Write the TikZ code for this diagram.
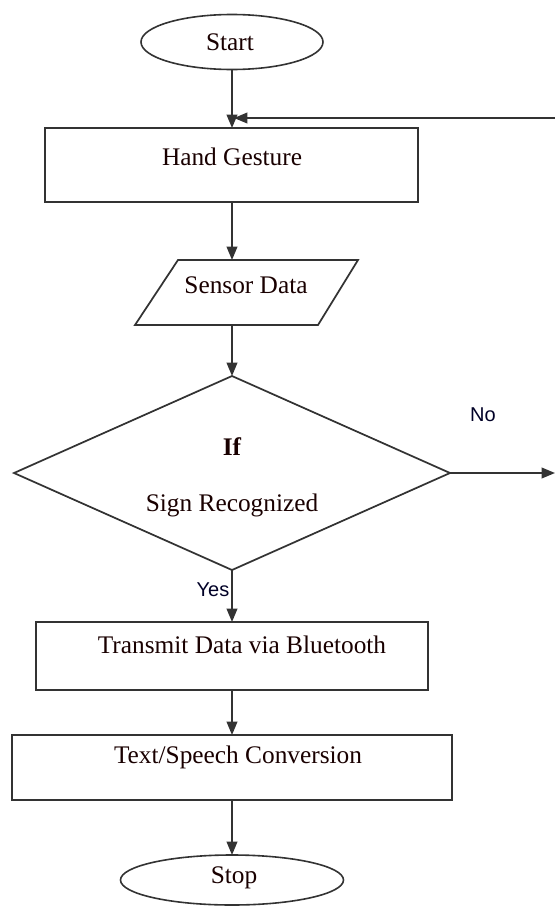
\documentclass[tikz,border=0pt]{standalone}
\usepackage{fontspec}
\setmainfont{Liberation Serif}
\newfontfamily\labelfont{Liberation Sans}
\usetikzlibrary{shapes.geometric,arrows.meta}
\begin{document}
\begin{tikzpicture}[x=0.75pt,y=-0.75pt,
  line width=1.3pt,
  every node/.style={inner sep=0pt,outer sep=0pt},
  boxtext/.style={font=\fontsize{19}{22}\selectfont, text=black!90!red},
  edge/.style={draw=black!80, line width=1.3pt},
  flow/.style={edge,-{Triangle[length=10pt,width=8pt]}},
  term/.style={draw=black!80, ellipse, line width=1.2pt},
  procbox/.style={draw=black!80, rectangle, line width=1.3pt},
  tag/.style={font=\labelfont\fontsize{15}{18}\selectfont, text=black!85!blue}]
\useasboundingbox (0,0) rectangle (555,914);

% Start
\node[term, minimum width=182*0.75pt, minimum height=55*0.75pt] (start) at (232,42) {};
\node[boxtext] (starttxt) at (230,42) {Start};

% Hand Gesture
\node[procbox, minimum width=373*0.75pt, minimum height=74*0.75pt] (hand) at (231.5,165) {};
\node[boxtext] (handtxt) at (232,157) {Hand Gesture};

% Sensor Data parallelogram
\coordinate (sdTL) at (178,260);
\coordinate (sdTR) at (358,260);
\coordinate (sdBR) at (318,325);
\coordinate (sdBL) at (135,325);
\draw[edge] (sdTL) -- (sdTR) -- (sdBR) -- (sdBL) -- cycle;
\node (sensor) at (232,292.5) [minimum height=65*0.75pt, minimum width=10pt] {};
\node[boxtext] (sensortxt) at (246,285) {Sensor Data};

% Decision diamond
\coordinate (dN) at (232,376);
\coordinate (dE) at (450,473);
\coordinate (dS) at (232,570);
\coordinate (dW) at (14,473);
\draw[edge] (dN) -- (dE) -- (dS) -- (dW) -- cycle;
\node[boxtext, font=\bfseries\fontsize{19}{22}\selectfont] (iftxt) at (232,447) {If};
\node[boxtext] (signtxt) at (232,505) {Sign Recognized};

% Transmit
\node[procbox, minimum width=392*0.75pt, minimum height=68*0.75pt] (transmit) at (232,656) {};
\node[boxtext] (transtxt) at (242,645) {Transmit Data via Bluetooth};

% Text/Speech
\node[procbox, minimum width=440*0.75pt, minimum height=65*0.75pt] (convert) at (232,767.5) {};
\node[boxtext] (convtxt) at (238,757) {Text/Speech Conversion};

% Stop
\node[term, minimum width=223*0.75pt, minimum height=50*0.75pt] (stop) at (232,880) {};
\node[boxtext] (stoptxt) at (234,878) {Stop};

% Connectors
\coordinate (handin) at (232,128);
\draw[flow] (start.south) -- (handin);
\coordinate (retR) at (556,118);
\coordinate (retL) at (234,118);
\draw[flow] (retR) -- (retL);
\draw[flow] (hand.south -| sensor) -- (sensor.north);
\draw[flow] (sensor.south) -- (dN);
\coordinate (noEnd) at (555,473);
\draw[flow] (dE) -- (noEnd);
\node[tag] (no) at (483,415) {No};
\draw[flow] (dS) -- (transmit.north);
\node[tag] (yes) at (213,590) {Yes};
\draw[flow] (transmit.south) -- (convert.north);
\draw[flow] (convert.south) -- (stop.north);
\end{tikzpicture}
\end{document}
